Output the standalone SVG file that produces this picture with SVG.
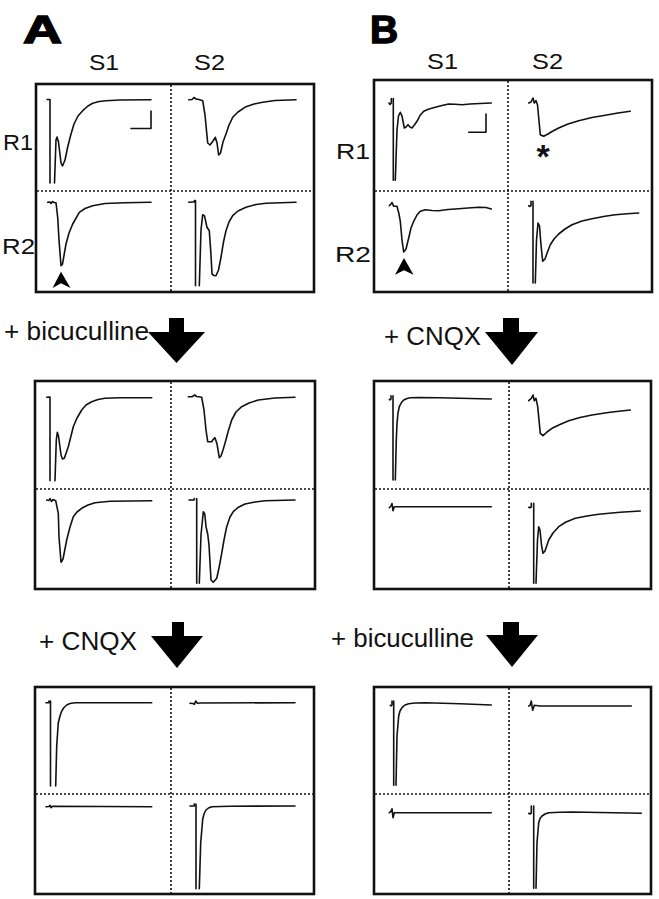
<svg xmlns="http://www.w3.org/2000/svg" width="659" height="899" viewBox="0 0 659 899">
<style>
.box{fill:none;stroke:#111;stroke-width:2.6}
.dot{fill:none;stroke:#111;stroke-width:1.6;stroke-dasharray:2 2}
.tr{fill:none;stroke:#111;stroke-width:1.6;stroke-linejoin:round;stroke-linecap:round}
.big{font-family:"Liberation Sans",Arial,sans-serif;font-weight:bold;fill:#000;stroke:#000;stroke-width:1.4;font-size:39px}
.cond{font-family:"Liberation Sans",Arial,sans-serif;fill:#111;font-size:25px}
.rc{font-family:"Liberation Sans",Arial,sans-serif;fill:#111;font-size:21.5px}
.arr{fill:#000}
</style>
<rect width="659" height="899" fill="#fff"/>

<g id="labels">
<text class="big" x="23" y="43" textLength="39" lengthAdjust="spacingAndGlyphs">A</text>
<text class="big" x="370" y="43">B</text>
<text class="rc" x="89" y="69.5" textLength="30" lengthAdjust="spacingAndGlyphs">S1</text>
<text class="rc" x="194" y="69.5" textLength="31" lengthAdjust="spacingAndGlyphs">S2</text>
<text class="rc" x="427" y="68.5" textLength="31" lengthAdjust="spacingAndGlyphs">S1</text>
<text class="rc" x="532" y="68.5" textLength="31" lengthAdjust="spacingAndGlyphs">S2</text>
<text class="rc" x="3" y="150" textLength="30" lengthAdjust="spacingAndGlyphs">R1</text>
<text class="rc" x="2" y="253.5" textLength="33" lengthAdjust="spacingAndGlyphs">R2</text>
<text class="rc" x="336" y="159" textLength="34" lengthAdjust="spacingAndGlyphs">R1</text>
<text class="rc" x="335" y="261.5" textLength="36" lengthAdjust="spacingAndGlyphs">R2</text>
<text class="cond" x="4" y="340" textLength="145" lengthAdjust="spacingAndGlyphs">+ bicuculline</text>
<text class="cond" x="384" y="345" textLength="97" lengthAdjust="spacingAndGlyphs">+ CNQX</text>
<text class="cond" x="39" y="650" textLength="98" lengthAdjust="spacingAndGlyphs">+ CNQX</text>
<text class="cond" x="331" y="647" textLength="143" lengthAdjust="spacingAndGlyphs">+ bicuculline</text>
</g>

<g id="connectors">
<polygon class="arr" points="169,318 184,318 184,332 205,332 176.5,363 148,332 169,332"/>
<polygon class="arr" points="503,318 519,318 519,332 538,332 512,365 485,332 503,332"/>
<polygon class="arr" points="172,622 184,622 184,636 203,636 177,668 151,636 172,636"/>
<polygon class="arr" points="503,622 519,622 519,635 538,635 512,667 486,635 503,635"/>
</g>

<g id="panelA1">
<rect class="box" x="36" y="84" width="278" height="208"/>
<line class="dot" x1="171" y1="85" x2="171" y2="291"/>
<line class="dot" x1="37" y1="191" x2="313" y2="191"/>
<path class="tr" d="M47,99.5 L50,99.5 L50,183 M54.5,183 L56,140 L57,137 L58.5,142 L61,163 L62.5,166 L65,160 L67.7,147 L71,134 L74,124 L78,116 L82.7,110.7 L88,106 L92.7,103.3 L99,101.5 L106,100.7 L120,100 L151,99.7"/>
<path class="tr" d="M131,128.5 H151 V111"/>
<path class="tr" d="M188.7,99.7 L192,99.5 L194,97.5 L196,99 L199,99.5 L202.7,100.7 L205,115 L207.7,143 L210,145 L213,141 L215.3,137.3 L217,143 L218.7,155 L220.5,153 L223,142 L226,134 L229,125 L232.7,117.3 L238,112 L246,106.7 L254,104 L262.7,102.3 L275,100.5 L296,99.7"/>
<path class="tr" d="M47.7,202.3 L50,202 L51,203.5 L52.5,201.5 L54,202.5 L56,202.7 L57.7,217.3 L59,240 L61,265.7 L62.5,264 L66,244 L69,233 L72.7,224 L79.3,212.3 L85,208.5 L92.7,205.7 L105,203.5 L125,202.7 L151,202.3"/>
<path class="arr" d="M61,271.7 L70.5,288 L61,283.3 L52.5,288 Z"/>
<path class="tr" d="M188.7,202.3 L192,202 L194,202 L194.5,200.5 M195.5,200.5 L195.5,285.7 M199.3,285.7 L201,230 L202.7,214.7 L204.5,216 L207,227.3 L209.3,230.7 L211,255 L212,274 L214,275.5 L216,275.7 L218.5,270 L221,257.3 L223.5,242 L226,230.7 L229,222 L232.7,215.7 L238,211 L246,207.3 L256,204.5 L266,203.3 L296,202.3"/>
</g>

<g id="panelB1">
<rect class="box" x="374" y="80" width="278" height="212"/>
<line class="dot" x1="508" y1="81" x2="508" y2="291"/>
<line class="dot" x1="375" y1="191" x2="651" y2="191"/>
<path class="tr" d="M389,103 L390,104.5 L391.3,103 L391.3,98.5 M393.3,98.5 L393.3,180.3 M395.3,180.3 L397,130 L398.5,116 L400.3,112.3 L402,116 L404.3,128 L406,127 L408,124.7 L410,127 L412,128 L414,125.5 L417,121.3 L420,115.5 L423.7,111.3 L429,109 L435.3,107.3 L442,105.5 L448.7,104 L455,104.3 L462,104.7 L470,104 L480,103.5 L491.3,103"/>
<path class="tr" d="M468.7,132.3 H486 V114"/>
<path class="tr" d="M528.7,103 L531,102 L533,98 L534.3,103 L536,100.7 L537.5,104.7 L540.3,134.7 L543.7,136.3 L548,134 L552,131.5 L558.7,128 L568,124 L578.7,120.7 L592,117.5 L605.3,115.3 L618,113 L630.3,111.3"/>
<text x="543" y="168" text-anchor="middle" style="font-family:'Liberation Sans',Arial,sans-serif;font-weight:bold;font-size:34px;fill:#111">*</text>
<path class="tr" d="M389.3,205.7 L391,204 L392,202.5 L393.7,206.3 L397,206.3 L399,214 L400.3,221.3 L402,240 L403.7,252 L406,249 L408.7,238 L411,228 L413.7,221.3 L417,215 L420.3,211.3 L425.3,209.7 L432,210.5 L438.7,210.7 L448,209.5 L458.7,208.7 L468,208 L478.7,207.3 L486,207.5 L491.3,209"/>
<path class="arr" d="M404,258 L413.5,274.7 L404,270.3 L395,274.7 Z"/>
<path class="tr" d="M528.7,205.7 L529.5,206.5 L531,205.5 L531,201.3 M533,201.3 L533,283 M535.3,283 L536.5,240 L538,223 L539.5,226 L541,245 L542.7,261.3 L545,259 L547.5,252 L550.3,244.7 L554,239 L558.7,234 L565,229 L572,224.7 L582,221 L592,218.7 L605,216.3 L615.3,214.7 L627,213.8 L638.7,213"/>
</g>

<g id="panelA2">
<rect class="box" x="35" y="381" width="280" height="208"/>
<line class="dot" x1="171" y1="382" x2="171" y2="588"/>
<line class="dot" x1="36" y1="489" x2="314" y2="489"/>
<path class="tr" d="M46.7,397.3 L50,397 L50,480.7 M55,480.7 L56.3,440 L57.3,432.3 L58.5,436 L61,455 L62.5,459 L64.3,458.3 L66.5,452 L68.3,446.7 L71,436 L73.3,426.7 L77,418 L81.7,410 L86,405 L91.7,401.7 L98,399.5 L105,398.3 L120,397.8 L151.7,397.7"/>
<path class="tr" d="M188.3,396.7 L192,396.8 L194.5,395 L196.7,396.5 L199,396.8 L201.7,397.3 L204,410 L206,430 L207.7,441.7 L211.7,441.7 L213.5,439 L215,437.7 L217,444 L219.3,457.7 L221,456 L223,450 L225,443.3 L228,432 L231.7,420 L236,412 L241.7,406.7 L249,403 L258.3,400 L275,398 L295,397.3"/>
<path class="tr" d="M46.7,500 L49,500.5 L50,498.5 L51.5,501.5 L53,499.5 L55.7,500.7 L58.3,513.3 L59,536.7 L61,562.3 L63,559 L66.7,540 L70,527 L73.3,516.7 L77,512 L81.7,508.3 L88,505 L95,502.7 L110,501.3 L151.7,500.7"/>
<path class="tr" d="M189,500 L194,500 L194.3,498.5 M196.7,498.5 L196.7,583.3 M199.3,583.3 L201,535 L203.3,511.7 L204.8,514 L206,526.7 L207.7,534 L209,545 L211,580 L213.3,582.3 L216.7,578.3 L219,568 L221.7,553.3 L224,540 L226.7,526.7 L230,517 L233.3,511.7 L238,507.5 L245,504 L255,502 L265,500.7 L295,500"/>
</g>

<g id="panelB2">
<rect class="box" x="374" y="381" width="277" height="208"/>
<line class="dot" x1="509" y1="382" x2="509" y2="588"/>
<line class="dot" x1="375" y1="489" x2="650" y2="489"/>
<path class="tr" d="M389.3,399.3 L390,400 L391,399 L391,395.7 M393,395.7 L393,480 M395.3,480 L396.3,440 L397,423.3 L398,413 L399.3,406.7 L401.5,402.5 L403.7,400 L407,398.5 L410.3,397.7 L420,397.5 L438.7,397.7 L460,398.2 L491.3,399"/>
<path class="tr" d="M528.7,400.7 L531.3,398.3 L533,395 L534.3,400.7 L536,398.3 L537.7,406.7 L540.3,433.3 L543,435.7 L547,432 L552,428.3 L560,424.5 L568.7,420.7 L580,417.5 L592,415 L610,412.3 L630.3,410"/>
<path class="tr" d="M389.3,507.7 L391,506 L392,503.5 L393,510.7 L394.3,506.7 L400,506.7 L491.3,506.7"/>
<path class="tr" d="M528.7,507.3 L530,507.8 L531.3,507 L531.3,503.3 M533.7,503.3 L533.7,583.3 M536,583.3 L537.5,540 L538.7,526.7 L540,530 L541.5,545 L543,553.3 L545,551 L548.7,540 L553,533 L558.7,526.7 L566,522 L575.3,518.3 L587,516 L598.7,514.3 L620,512.3 L640.3,511"/>
</g>

<g id="panelA3">
<rect class="box" x="35" y="687" width="279" height="207"/>
<line class="dot" x1="171" y1="688" x2="171" y2="893"/>
<line class="dot" x1="36" y1="794" x2="313" y2="794"/>
<path class="tr" d="M46,702.7 L49,702.7 L49,701 M50.5,701 L50.5,786 M55.7,786 L56.7,746 L58.3,722.7 L60,716 L61.7,711 L64,707.5 L66.7,705 L70,703.5 L75,702.7 L151.7,702.7"/>
<path class="tr" d="M190,703.3 L193,703.5 L194.3,704.3 L195.7,701 L197.3,703.3 L200,703 L295,702.7"/>
<path class="tr" d="M46,806.7 L49,806.5 L50,805.3 L51,807.7 L52.3,806.3 L151.7,806.7"/>
<path class="tr" d="M190,806 L194.3,806 L194.3,804 M196,804 L196,888.7 M199.3,888.7 L200.7,842.7 L202.7,819.3 L204,814 L206,810 L208.5,808 L211.7,806.7 L230,806.2 L295,806"/>
</g>

<g id="panelB3">
<rect class="box" x="374" y="687" width="277" height="207"/>
<line class="dot" x1="509" y1="688" x2="509" y2="893"/>
<line class="dot" x1="375" y1="794" x2="650" y2="794"/>
<path class="tr" d="M390.3,705.3 L391,706 L392,705 L392,701 M393.7,701 L393.7,785.3 M396,785.3 L397,736 L398.7,716 L400,711 L402,707.7 L405,705 L408.7,703.7 L415,703 L425.3,702.7 L460,703.7 L491.3,705"/>
<path class="tr" d="M528.7,706 L530,705.5 L531.3,701 L532.7,710.3 L534.3,705.3 L540,706 L631.3,706"/>
<path class="tr" d="M389.3,812.7 L391,811.5 L392,808.7 L393,817.7 L394.3,812.7 L400,812.7 L491.3,812.7"/>
<path class="tr" d="M528.7,813.3 L530,814 L531.3,813 L531.3,806 M533.7,806 L533.7,888.3 M536,888.3 L537,842.7 L538.7,822.7 L540,818.5 L542,816 L545,814 L548.7,812.7 L560,812.2 L572,812 L600,812.5 L641.3,813.3"/>
</g>
</svg>
